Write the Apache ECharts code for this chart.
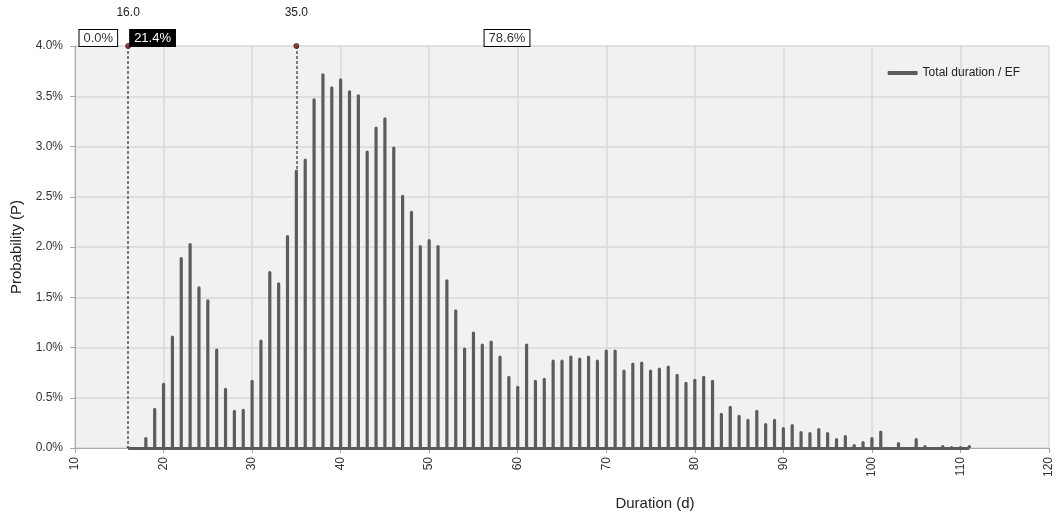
<!DOCTYPE html>
<html>
<head>
<meta charset="utf-8">
<script src="https://cdn.jsdelivr.net/npm/echarts@6/dist/echarts.min.js"></script>
<style>
html,body{margin:0;padding:0;background:#fff;}
#chart{width:1057px;height:517px;}
</style>
</head>
<body>
<div id="chart"></div>
<script>
const durations = [16,17,18,19,20,21,22,23,24,25,26,27,28,29,30,31,32,33,34,35,36,37,38,39,40,41,42,43,44,45,46,47,48,49,50,51,52,53,54,55,56,57,58,59,60,61,62,63,64,65,66,67,68,69,70,71,72,73,74,75,76,77,78,79,80,81,82,83,84,85,86,87,88,89,90,91,92,93,94,95,96,97,98,99,100,101,102,103,104,105,106,107,108,109,110,111];
const probs = [0.02,0.00,0.11,0.40,0.65,1.12,1.90,2.04,1.61,1.48,0.99,0.60,0.38,0.39,0.68,1.08,1.76,1.65,2.12,2.77,2.88,3.48,3.73,3.60,3.68,3.56,3.52,2.96,3.20,3.29,3.00,2.52,2.36,2.02,2.08,2.02,1.68,1.38,1.00,1.16,1.04,1.07,0.92,0.72,0.62,1.04,0.68,0.70,0.88,0.88,0.92,0.90,0.92,0.88,0.98,0.98,0.78,0.85,0.86,0.78,0.80,0.82,0.74,0.66,0.69,0.72,0.68,0.35,0.42,0.33,0.29,0.38,0.25,0.29,0.21,0.24,0.17,0.16,0.20,0.16,0.10,0.13,0.04,0.07,0.11,0.175,0.01,0.06,0.01,0.10,0.03,0.01,0.03,0.02,0.02,0.03];
const markers = [16.0, 35.0];
const cumLabels = ['0.0%', '21.4%', '78.6%'];
const seriesName = 'Total duration / EF';
const yMax = 4.0;

const barData = durations.map((d, i) => [d, probs[i]]);
const probAt = d => probs[durations.indexOf(d)];

const chart = echarts.init(document.getElementById('chart'), null, {renderer: 'canvas'});
const font = '"Liberation Sans", Arial, sans-serif';

const option = {
  animation: false,
  textStyle: {fontFamily: font},
  grid: {left: 75, right: 8, top: 46, bottom: 69, show: true, backgroundColor: '#f1f1f1', borderWidth: 0},
  legend: {
    data: [{name: seriesName, icon: 'roundRect'}],
    right: 32, top: 62, itemWidth: 30, itemHeight: 4, itemGap: 2,
    textStyle: {fontSize: 12, color: '#222', fontFamily: font}
  },
  xAxis: {
    type: 'value', min: 10, max: 120, interval: 10,
    name: 'Duration (d)', nameLocation: 'middle', nameGap: 48,
    nameTextStyle: {fontSize: 15, color: '#222', fontFamily: font, padding: [0, 0, 0, 186]},
    axisLine: {show: true, lineStyle: {color: '#aaa', width: 1}},
    axisTick: {show: true, length: 5, lineStyle: {color: '#aaa'}},
    axisLabel: {rotate: 90, fontSize: 12, color: '#333', margin: 9},
    splitLine: {show: true, lineStyle: {color: '#d8d8d8', width: 1.5}}
  },
  yAxis: {
    type: 'value', min: 0, max: yMax, interval: 0.5,
    name: 'Probability (P)', nameLocation: 'middle', nameGap: 50, nameRotate: 90,
    nameTextStyle: {fontSize: 15, color: '#222', fontFamily: font},
    axisLine: {show: true, lineStyle: {color: '#aaa', width: 1}},
    axisTick: {show: true, length: 5, lineStyle: {color: '#aaa'}},
    axisLabel: {fontSize: 12, color: '#333', margin: 12, formatter: v => v.toFixed(1) + '%'},
    splitLine: {show: true, lineStyle: {color: '#d8d8d8', width: 1.5}}
  },
  series: [
    {
      name: seriesName, type: 'bar', data: barData, barWidth: 3.2,
      itemStyle: {color: '#5c5c5c', borderRadius: [1.6, 1.6, 0, 0]},
      markLine: {
        silent: true, symbol: 'none', label: {show: false},
        data: [
          [{coord: [durations[0], 0], lineStyle: {type: 'solid', color: '#5c5c5c', width: 3}},
           {coord: [durations[durations.length - 1], 0]}],
          [{coord: [markers[0], yMax], lineStyle: {type: [3, 2], color: '#555', width: 1.5}},
           {coord: [markers[0], 0]}],
          [{coord: [markers[1], yMax], lineStyle: {type: [3, 2], color: '#555', width: 1.5}},
           {coord: [markers[1], probAt(markers[1])]}]
        ]
      }
    },
    {
      name: 'markers', type: 'scatter', clip: false, z: 5,
      data: markers.map(m => [m, yMax]), symbolSize: 5,
      itemStyle: {color: '#9a1010', borderColor: '#222', borderWidth: 1}
    }
  ]
};
chart.setOption(option);

const p16 = chart.convertToPixel({gridIndex: 0}, [markers[0], yMax]);
const p35 = chart.convertToPixel({gridIndex: 0}, [markers[1], yMax]);
const boxStyle = (txt, x, y, align, dark) => ({
  type: 'text', x: x, y: y,
  style: {
    text: txt, align: align, verticalAlign: 'bottom',
    font: '13px ' + font, fill: dark ? '#fff' : '#333',
    backgroundColor: dark ? '#000' : '#fff', borderColor: '#000', borderWidth: 1,
    padding: [2, 4, 1, 4]
  }, z: 10
});
chart.setOption({
  graphic: [
    {type: 'text', x: p16[0], y: 13, style: {text: markers[0].toFixed(1), align: 'center', verticalAlign: 'middle', font: '12px ' + font, fill: '#222'}},
    {type: 'text', x: p35[0], y: 13, style: {text: markers[1].toFixed(1), align: 'center', verticalAlign: 'middle', font: '12px ' + font, fill: '#222'}},
    boxStyle(cumLabels[0], p16[0] - 11, p16[1], 'right', false),
    boxStyle(cumLabels[1], p16[0] + 2, p16[1], 'left', true),
    boxStyle(cumLabels[2], 507, p16[1], 'center', false)
  ]
});
</script>
</body>
</html>
